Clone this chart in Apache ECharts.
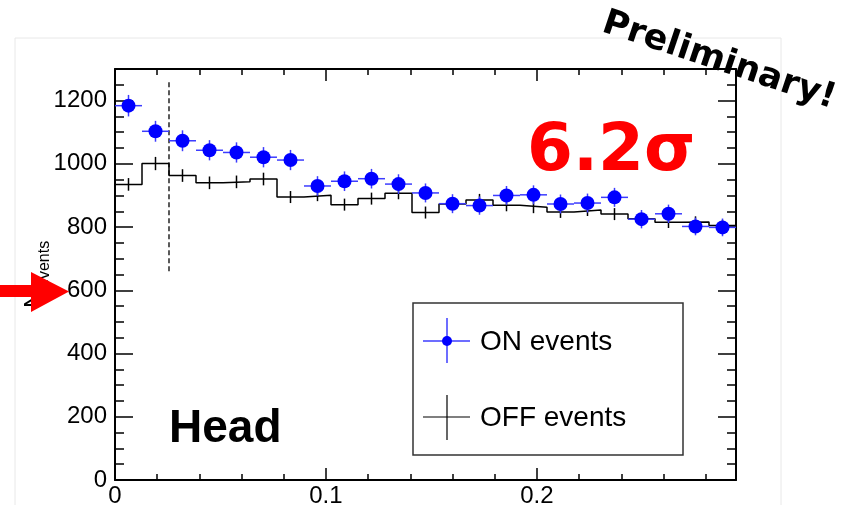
<!DOCTYPE html>
<html><head><meta charset="utf-8">
<script src="https://cdn.jsdelivr.net/npm/echarts@6/dist/echarts.min.js"></script>
<style>html,body{margin:0;padding:0;background:#fff}#c{width:841px;height:505px}</style>
</head><body><div id="c"></div>
<script>
// ---- data ----
const xMax = 0.2944;
const binWidth = 0.0128;
const onValues  = [1184,1103,1073,1043,1036,1021,1012,930,945,953,936,908,874,868,900,902,873,876,894,825,842,802,799];
const onErrors  = [34,33,33,32,32,32,32,31,31,31,31,30,30,29,30,30,30,30,30,29,29,28,28];
const offValues = [935,1001,963,940,943,952,895,901,871,890,907,846,873,886,869,863,848,854,841,826,815,816,805];
const offErrors = [20,21,20,20,20,20,19,19,19,19,19,19,19,19,19,19,19,19,19,18,18,18,18];
const xTickLabels = ['0','0.1','0.2'];
const yTickLabels = ['0','200','400','600','800','1000','1200'];
const cutX = 0.0256;
const cutRange = [660, 1260];
const legendNames = ['ON events','OFF events'];
const significance = '6.2\u03c3';
const regionLabel = 'Head';
const stamp = 'Preliminary!';

// ---- build ----
const centers = onValues.map((_, i) => binWidth * (i + 0.5));
const onData = onValues.map((v, i) => [centers[i], v, onErrors[i]]);
const offErrData = offValues.map((v, i) => [centers[i], v, offErrors[i]]);
const histData = offValues.map((v, i) => [binWidth * i, v]);
histData.push([binWidth * offValues.length, offValues[offValues.length - 1]]);

const FONT = 'Liberation Sans, Arial, Helvetica, sans-serif';
const BLUE = '#0000ff';
const BLUE_LINE = '#3c3cff';

function xFmt(v) { const i = Math.round(v * 10); return Math.abs(v * 10 - i) < 1e-6 ? (xTickLabels[i] || '') : ''; }
function yFmt(v) { const i = Math.round(v / 200); return Math.abs(v / 200 - i) < 1e-6 ? (yTickLabels[i] || '') : ''; }

function xAx(pos, interval, len, labels, line) {
  return {
    type: 'value', position: pos, min: 0, max: xMax, interval: interval,
    axisLine: { show: line, onZero: false, lineStyle: { color: '#000', width: 2 } },
    axisTick: { show: true, inside: true, length: len, lineStyle: { color: '#000', width: 1.5 } },
    axisLabel: { show: labels, formatter: xFmt, fontSize: 24, color: '#000', fontFamily: FONT, margin: 4 },
    splitLine: { show: false }
  };
}
function yAx(pos, interval, len, labels, line) {
  return {
    type: 'value', position: pos, min: 0, max: 1300, interval: interval,
    axisLine: { show: line, onZero: false, lineStyle: { color: '#000', width: 2 } },
    axisTick: { show: true, inside: true, length: len, lineStyle: { color: '#000', width: 1.5 } },
    axisLabel: { show: labels, formatter: yFmt, fontSize: 24, color: '#000', fontFamily: FONT, margin: 8 },
    splitLine: { show: false }
  };
}

function errRender(color, horiz) {
  return function (params, api) {
    const c = api.value(0), v = api.value(1), e = api.value(2);
    const pT = api.coord([c, v + e]), pB = api.coord([c, v - e]);
    const ch = [{ type: 'line', shape: { x1: pT[0], y1: pT[1], x2: pB[0], y2: pB[1] }, style: { stroke: color, lineWidth: 1.5 } }];
    if (horiz) {
      const pL = api.coord([c - binWidth / 2, v]), pR = api.coord([c + binWidth / 2, v]);
      ch.push({ type: 'line', shape: { x1: pL[0], y1: pL[1], x2: pR[0], y2: pR[1] }, style: { stroke: color, lineWidth: 1.5 } });
    }
    return { type: 'group', children: ch };
  };
}

const chart = echarts.init(document.getElementById('c'), null, { renderer: 'canvas' });
chart.setOption({
  animation: false,
  backgroundColor: '#fff',
  grid: { left: 115, right: 105, top: 69, bottom: 25, containLabel: false, outerBoundsMode: 'none' },
  xAxis: [xAx('bottom', 0.1, 12, true, true), xAx('bottom', 0.02, 6, false, false),
          xAx('top', 0.1, 12, false, true), xAx('top', 0.02, 6, false, false)],
  yAxis: [yAx('left', 200, 18, true, true), yAx('left', 50, 9, false, false),
          yAx('right', 200, 18, false, true), yAx('right', 50, 9, false, false)],
  series: [
    { type: 'line', name: legendNames[1], data: histData, step: 'end', symbol: 'none',
      lineStyle: { color: '#000', width: 1.5 }, z: 2 },
    { type: 'custom', data: offErrData, renderItem: errRender('#000', false), encode: { x: 0, y: 1 }, z: 3 },
    { type: 'line', data: [[cutX, cutRange[0]], [cutX, cutRange[1]]], symbol: 'none',
      lineStyle: { color: '#000', width: 1.3, type: [5, 3] }, z: 2 },
    { type: 'custom', data: onData, renderItem: errRender(BLUE_LINE, true), encode: { x: 0, y: 1 }, z: 4 },
    { type: 'scatter', name: legendNames[0], data: onData.map(d => [d[0], d[1]]), symbol: 'circle', symbolSize: 14,
      itemStyle: { color: BLUE, opacity: 1 }, z: 5 }
  ],
  graphic: [
    { type: 'rect', z: -10, shape: { x: 15, y: 38, width: 766, height: 500 }, style: { fill: 'none', stroke: '#e8e8e8', lineWidth: 1 } },
    // legend
    { type: 'rect', z: 10, shape: { x: 413, y: 303, width: 270, height: 152 }, style: { fill: '#fff', stroke: '#333', lineWidth: 1.5 } },
    { type: 'line', z: 11, shape: { x1: 423, y1: 341, x2: 470, y2: 341 }, style: { stroke: BLUE_LINE, lineWidth: 1.5 } },
    { type: 'line', z: 11, shape: { x1: 447, y1: 318, x2: 447, y2: 363 }, style: { stroke: BLUE_LINE, lineWidth: 1.5 } },
    { type: 'circle', z: 12, shape: { cx: 447, cy: 341, r: 5 }, style: { fill: BLUE } },
    { type: 'text', z: 11, x: 480, y: 342, style: { text: legendNames[0], font: '28px ' + FONT, fill: '#000', textAlign: 'left', textVerticalAlign: 'middle' } },
    { type: 'line', z: 11, shape: { x1: 423, y1: 417, x2: 470, y2: 417 }, style: { stroke: '#000', lineWidth: 1.2 } },
    { type: 'line', z: 11, shape: { x1: 447, y1: 395, x2: 447, y2: 440 }, style: { stroke: '#000', lineWidth: 1.2 } },
    { type: 'text', z: 11, x: 480, y: 418, style: { text: legendNames[1], font: '28px ' + FONT, fill: '#000', textAlign: 'left', textVerticalAlign: 'middle' } },
    // annotations
    { type: 'text', z: 11, x: 527, y: 153, style: { text: significance, font: 'bold 66px DejaVu Sans', fill: '#ff0000', textAlign: 'left', textVerticalAlign: 'middle' } },
    { type: 'text', z: 11, x: 169, y: 429, style: { text: regionLabel, font: 'bold 46px ' + FONT, fill: '#000', textAlign: 'left', textVerticalAlign: 'middle' } },
    { type: 'text', z: 11, x: 719, y: 61, rotation: -18.5 * Math.PI / 180, style: { text: stamp, font: 'bold 35px DejaVu Sans', fill: '#000', textAlign: 'center', textVerticalAlign: 'middle' } },
    // y axis title (partly covered by the arrow)
    { type: 'text', z: 11, x: 45, y: 288, rotation: Math.PI / 2, style: { text: 'events', font: '16px ' + FONT, fill: '#000', textAlign: 'left', textVerticalAlign: 'middle' } },
    { type: 'text', z: 11, x: 34, y: 308, rotation: Math.PI / 2, style: { text: 'N', font: '24px ' + FONT, fill: '#000', textAlign: 'left', textVerticalAlign: 'middle' } },
    // red arrow
    { type: 'polygon', z: 20, shape: { points: [[0, 285], [31, 285], [31, 272], [69, 291.5], [31, 312], [31, 297], [0, 297]] }, style: { fill: '#ff0000' } }
  ]
});
</script></body></html>
